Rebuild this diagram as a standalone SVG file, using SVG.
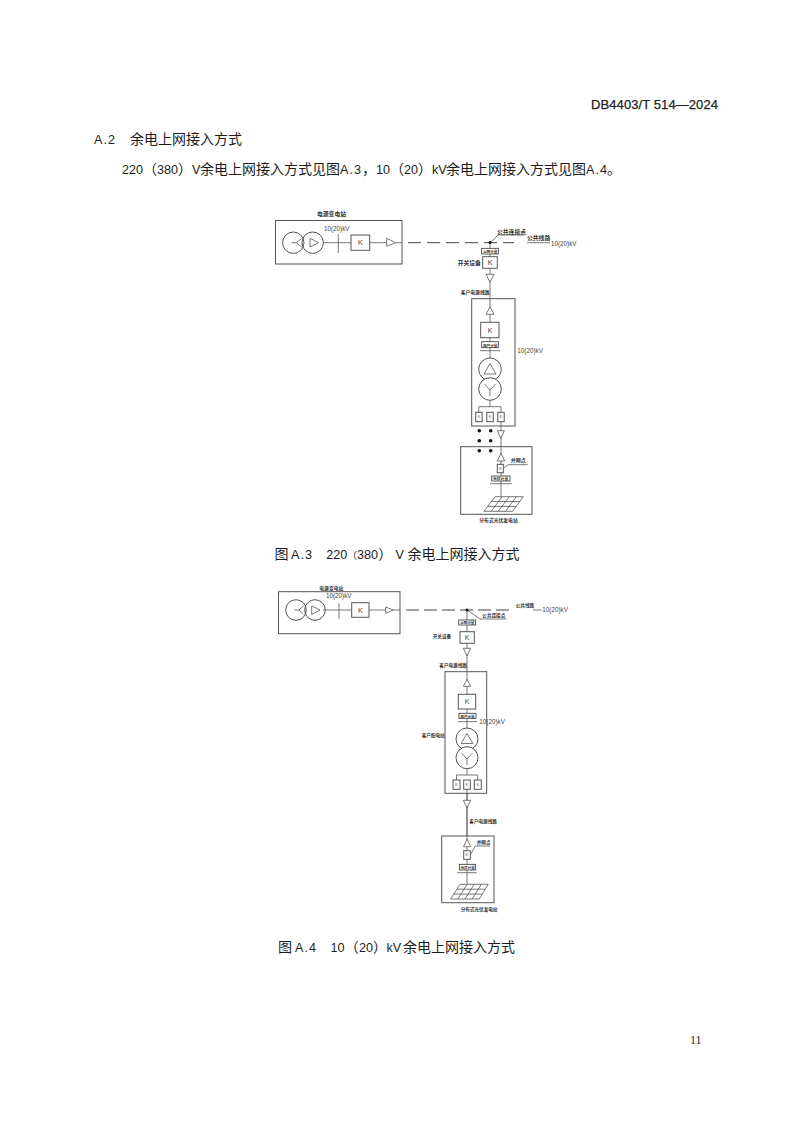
<svg xmlns="http://www.w3.org/2000/svg" width="794" height="1123" viewBox="0 0 794 1123">
<style>
text{font-family:"Liberation Sans","Noto Sans CJK SC",sans-serif;fill:#1c1c1c}
.h{font-family:"Noto Sans CJK SC",sans-serif;font-size:14px}
.m{font-family:"Liberation Sans",sans-serif;font-size:12.6px}
.a{font-family:"Liberation Sans",sans-serif;font-size:12.6px;letter-spacing:1px}
.l{font-family:"Noto Sans CJK SC",sans-serif;font-size:5.8px;font-weight:700;fill:#333}
.v{font-family:"Liberation Sans",sans-serif;font-size:6.3px;fill:#444}
.k{font-family:"Liberation Sans",sans-serif;font-size:7px;fill:#444;text-anchor:middle}
.s{font-family:"Liberation Sans",sans-serif;font-size:3.4px;fill:#333;text-anchor:middle}
.b,.w{stroke:#555;stroke-width:1}
.b{fill:none}
.w{fill:#fff}
.t{stroke:#555;stroke-width:.8;fill:#fff}
.n{stroke:#555;stroke-width:.8;fill:none}
.d{stroke:#444;stroke-width:1;fill:none;stroke-dasharray:13 6}
.p{stroke:#333;stroke-width:.8;fill:#fff}
</style>
<g id="page-text">
<text x="591" y="109" font-size="13" textLength="127" stroke="#222" stroke-width=".25" style="fill:#222">DB4403/T 514—2024</text>
<text x="94" y="144" class="a">A.2</text>
<text x="130" y="144" class="h">余电上网接入方式</text>
<text y="174" class="h"><tspan x="122" class="m">220</tspan><tspan x="143">（</tspan><tspan x="157" class="m">380</tspan><tspan x="178">）</tspan><tspan x="192" class="m">V</tspan><tspan x="200">余电上网接入方式见图</tspan><tspan x="340" class="a">A.3</tspan><tspan x="362">，</tspan><tspan x="376" class="m">10</tspan><tspan x="390">（</tspan><tspan x="404" class="m">20</tspan><tspan x="418">）</tspan><tspan x="432" class="m">kV</tspan><tspan x="446">余电上网接入方式见图</tspan><tspan x="586" class="a">A.4</tspan><tspan x="607">。</tspan></text>
<text y="559" class="h"><tspan x="274.5">图</tspan><tspan x="291" class="a">A.3</tspan><tspan x="326.3" class="m">220</tspan><tspan x="347.5" style="font-size:9.5px">（</tspan><tspan x="357" class="m">380</tspan><tspan x="378.2">）</tspan><tspan x="395.5" class="m">V</tspan><tspan x="407.5">余电上网接入方式</tspan></text>
<text y="952" class="h"><tspan x="278">图</tspan><tspan x="295" class="a">A.4</tspan><tspan x="330.5" class="m">10</tspan><tspan x="344.7">（</tspan><tspan x="359" class="m">20</tspan><tspan x="373">）</tspan><tspan x="386.5" class="m">kV</tspan><tspan x="403">余电上网接入方式</tspan></text>
<text x="690" y="1044" font-size="12" style="font-family:'Liberation Serif',serif">11</text>
</g>

<g id="connectors">
<path class="n" d="M323 242.7H351M369.7 242.7H387M395.7 242.7H402"/>
<path class="d" d="M408 242.7H514"/>
<path class="n" d="M527 242.7H550"/>
<path class="n" d="M490 242.7V406.7M478.8 412.3V406.7H501V412.3M501 421.7V496.7"/>
<path class="n" d="M490 242.7L498 235H524"/>
<path class="n" d="M503.3 468.3L508.3 464.7H527.7"/>
<path class="n" d="M323 610H351.7M369 610H386M393.3 610H400"/>
<path class="d" d="M406 610H512" style="stroke-dasharray:13 5"/>
<path class="n" d="M533 610H541.7"/>
<path class="n" d="M467 610V775M456.5 780V775H477.7V780M467 789V884"/>
<path class="n" d="M467 610L480 619H506.7"/>
<path class="n" d="M470.3 855L475.3 846H490"/>
</g>

<g id="a3-substation">
<rect class="b" x="275.5" y="220.5" width="126.5" height="43.5"/>
<circle class="b" cx="293.3" cy="242.7" r="10.7"/><circle class="b" cx="312.7" cy="242.7" r="10.7"/>
<path class="n" d="M291.5 242.7H296.5L301.5 238.5M296.5 242.7L301.5 247M310 238.3V247L318.5 242.7Z"/>
<path class="n" d="M338.3 234V253"/>
<rect class="w" x="351" y="235" width="18.7" height="15.3"/><text class="k" x="360.3" y="245">K</text>
<path class="t" d="M386.7 238.3L395.7 242.7L386.7 246.3Z"/>
<text class="l" x="317" y="216">电源变电站</text>
<text class="v" x="324" y="231">10(20)kV</text>
</g>
<g id="a3-pcc">
<circle cx="490" cy="242.6" r="1.5" fill="#111"/>
<text class="l" x="497" y="233.5">公共连接点</text>
<text class="l" x="527" y="240">公共线路</text>
<text class="v" x="551" y="246">10(20)kV</text>
</g>
<g id="a3-switch">
<rect class="p" x="481.7" y="248.3" width="16.6" height="5.7"/><text class="l" x="483" y="253.4" style="font-size:3.6px">上网计量</text>
<rect class="w" x="482.7" y="256.7" width="14.6" height="11.6"/><text class="k" x="490" y="265">K</text>
<text class="l" x="457.7" y="265">开关设备</text>
<path class="t" d="M486 274.3H494L490 282.3Z"/>
<text class="l" x="460.7" y="294" style="font-size:4.8px">客户电源线路</text>
</g>
<g id="a3-customer">
<rect class="b" x="471.7" y="298.7" width="43.3" height="127.3"/>
<path class="t" d="M486 314.3H494L490 306.7Z"/>
<rect class="w" x="480.7" y="322.3" width="18.3" height="15.4"/><text class="k" x="490" y="332.5">K</text>
<rect class="p" x="481.7" y="341.7" width="16.6" height="6"/><text class="l" x="483" y="346.6" style="font-size:3.6px">用户计量</text>
<path class="n" d="M480 350.7H500"/>
<text class="v" x="517.3" y="353">10(20)kV</text>
<circle class="w" cx="490" cy="369.3" r="11.3"/><circle class="w" cx="490" cy="389" r="11.3"/>
<path class="n" d="M490 363.5L496 374H484ZM490 390L484.5 384M490 390L495.5 384M490 390V396"/>
<rect class="w" x="475.7" y="412.3" width="6.4" height="9.4"/><text class="s" x="478.9" y="418.4">K</text>
<rect class="w" x="486.8" y="412.3" width="6.4" height="9.4"/><text class="s" x="490" y="418.4">K</text>
<rect class="w" x="497.8" y="412.3" width="6.4" height="9.4"/><text class="s" x="501" y="418.4">K</text>
</g>
<g id="a3-dots" fill="#111">
<circle cx="479.3" cy="430.7" r="1.8"/><circle cx="490.7" cy="430.7" r="1.8"/>
<circle cx="479.3" cy="440.7" r="1.8"/><circle cx="490.7" cy="440.7" r="1.8"/>
<circle cx="479.3" cy="450.7" r="1.8"/><circle cx="490.7" cy="450.7" r="1.8"/>
</g>
<g id="a3-pv">
<path class="t" d="M497.3 430.7H504.3L500.8 438.3Z"/>
<rect class="b" x="460.7" y="446.7" width="71.3" height="67.6"/>
<path class="t" d="M497.3 461H504.7L501 453.3Z"/>
<rect class="w" x="497.3" y="464.3" width="6" height="8.4"/><text class="s" x="500.3" y="469.8">K</text>
<text class="l" x="510.7" y="461.7" style="font-size:5px">并网点</text>
<rect class="p" x="491.7" y="476" width="18.3" height="5"/><text class="l" x="493" y="480.2" style="font-size:3.8px">光伏计量</text>
<path class="n" d="M490 483.7H511.7"/>
<path class="n" d="M495 496.7H523.3L512.7 511.3H484ZM491.4 501.5H519.8M487.7 506.4H516.2M502.1 496.7L491.2 511.3M509.2 496.7L498.3 511.3M516.2 496.7L505.5 511.3"/>
<text class="l" x="479.3" y="521.7" style="font-size:4.8px">分布式光伏发电站</text>
</g>

<g id="a4-substation">
<rect class="b" x="278.5" y="591.7" width="121.5" height="42"/>
<circle class="b" cx="296" cy="610" r="10.3"/><circle class="b" cx="315" cy="610" r="10.3"/>
<path class="n" d="M294.5 610H299L303.5 606M299 610L303.5 614M311.7 606V614.5L320 610Z"/>
<path class="n" d="M339 603.3V619"/>
<rect class="w" x="351.7" y="602.7" width="17.3" height="14.6"/><text class="k" x="360.3" y="612.5">K</text>
<path class="t" d="M385.7 607L393.3 610L385.7 613.3Z"/>
<text class="l" x="319.3" y="590" style="font-size:4.8px">电源变电站</text>
<text class="v" x="326" y="598.3">10(20)kV</text>
</g>
<g id="a4-pcc">
<circle cx="467" cy="610" r="1.5" fill="#111"/>
<text class="l" x="515.7" y="607" style="font-size:4.6px">公共线路</text>
<text class="v" x="542.3" y="611.7">10(20)kV</text>
<text class="l" x="482.3" y="616.7" style="font-size:4.6px">公共连接点</text>
</g>
<g id="a4-switch">
<rect class="p" x="458.7" y="620" width="17" height="5"/><text class="l" x="460" y="624.3" style="font-size:3.6px">上网计量</text>
<rect class="w" x="460" y="631.7" width="14.3" height="11.6"/><text class="k" x="467.2" y="640">K</text>
<text class="l" x="432.7" y="638.3" style="font-size:4.6px">开关设备</text>
<path class="t" d="M463.3 648.3H470.7L467 655.7Z"/>
<text class="l" x="439.3" y="666.7" style="font-size:4.6px">客户电源线路</text>
</g>
<g id="a4-customer">
<rect class="b" x="445" y="671.7" width="41.7" height="121.6"/>
<path class="t" d="M463.3 686.3H470.7L467 679.3Z"/>
<rect class="w" x="458.3" y="694.3" width="17.4" height="14.7"/><text class="k" x="467" y="704">K</text>
<rect class="p" x="459" y="713.3" width="17" height="5"/><text class="l" x="460.3" y="717.6" style="font-size:3.6px">用户计量</text>
<path class="n" d="M457.7 721.7H477"/>
<text class="v" x="479.3" y="724">10(20)kV</text>
<text class="l" x="421.7" y="736.7" style="font-size:4.6px">客户配电站</text>
<circle class="w" cx="467" cy="739" r="11"/><circle class="w" cx="467" cy="757.7" r="11"/>
<path class="n" d="M467 733.5L472.8 743.5H461.2ZM467 759L461.5 753M467 759L472.5 753M467 759V765"/>
<rect class="w" x="453" y="780" width="7" height="9.3"/><text class="s" x="456.5" y="786">K</text>
<rect class="w" x="463.7" y="780" width="6.6" height="9.3"/><text class="s" x="467" y="786">K</text>
<rect class="w" x="474.3" y="780" width="7" height="9.3"/><text class="s" x="477.8" y="786">K</text>
</g>
<g id="a4-line">
<path class="n" d="M467 793.3V836"/>
<path class="t" d="M463.3 800.3H470.7L467 807.7Z"/>
<text class="l" x="469.3" y="823.3" style="font-size:4.6px">客户电源线路</text>
</g>
<g id="a4-pv">
<rect class="b" x="441.7" y="836" width="52.3" height="66.7"/>
<path class="t" d="M463.5 846.7H470.7L467 839Z"/>
<rect class="w" x="463.7" y="850.7" width="6.6" height="8.6"/><text class="s" x="467" y="856.2">K</text>
<text class="l" x="476.7" y="844" style="font-size:4.6px">并网点</text>
<rect class="p" x="459.3" y="864.3" width="16.4" height="5.7"/><text class="l" x="460.5" y="868.8" style="font-size:3.6px">光伏计量</text>
<path class="n" d="M457.3 872.7H476.7"/>
<path class="n" d="M460 884.3H488.3L479.3 899H450.7ZM456.9 889.2H485.3M453.8 894.1H482.3M467.1 884.3L457.8 899M474.2 884.3L465 899M481.3 884.3L472.1 899"/>
<text class="l" x="460.7" y="910.7" style="font-size:4.6px">分布式光伏发电站</text>
</g>
</svg>
